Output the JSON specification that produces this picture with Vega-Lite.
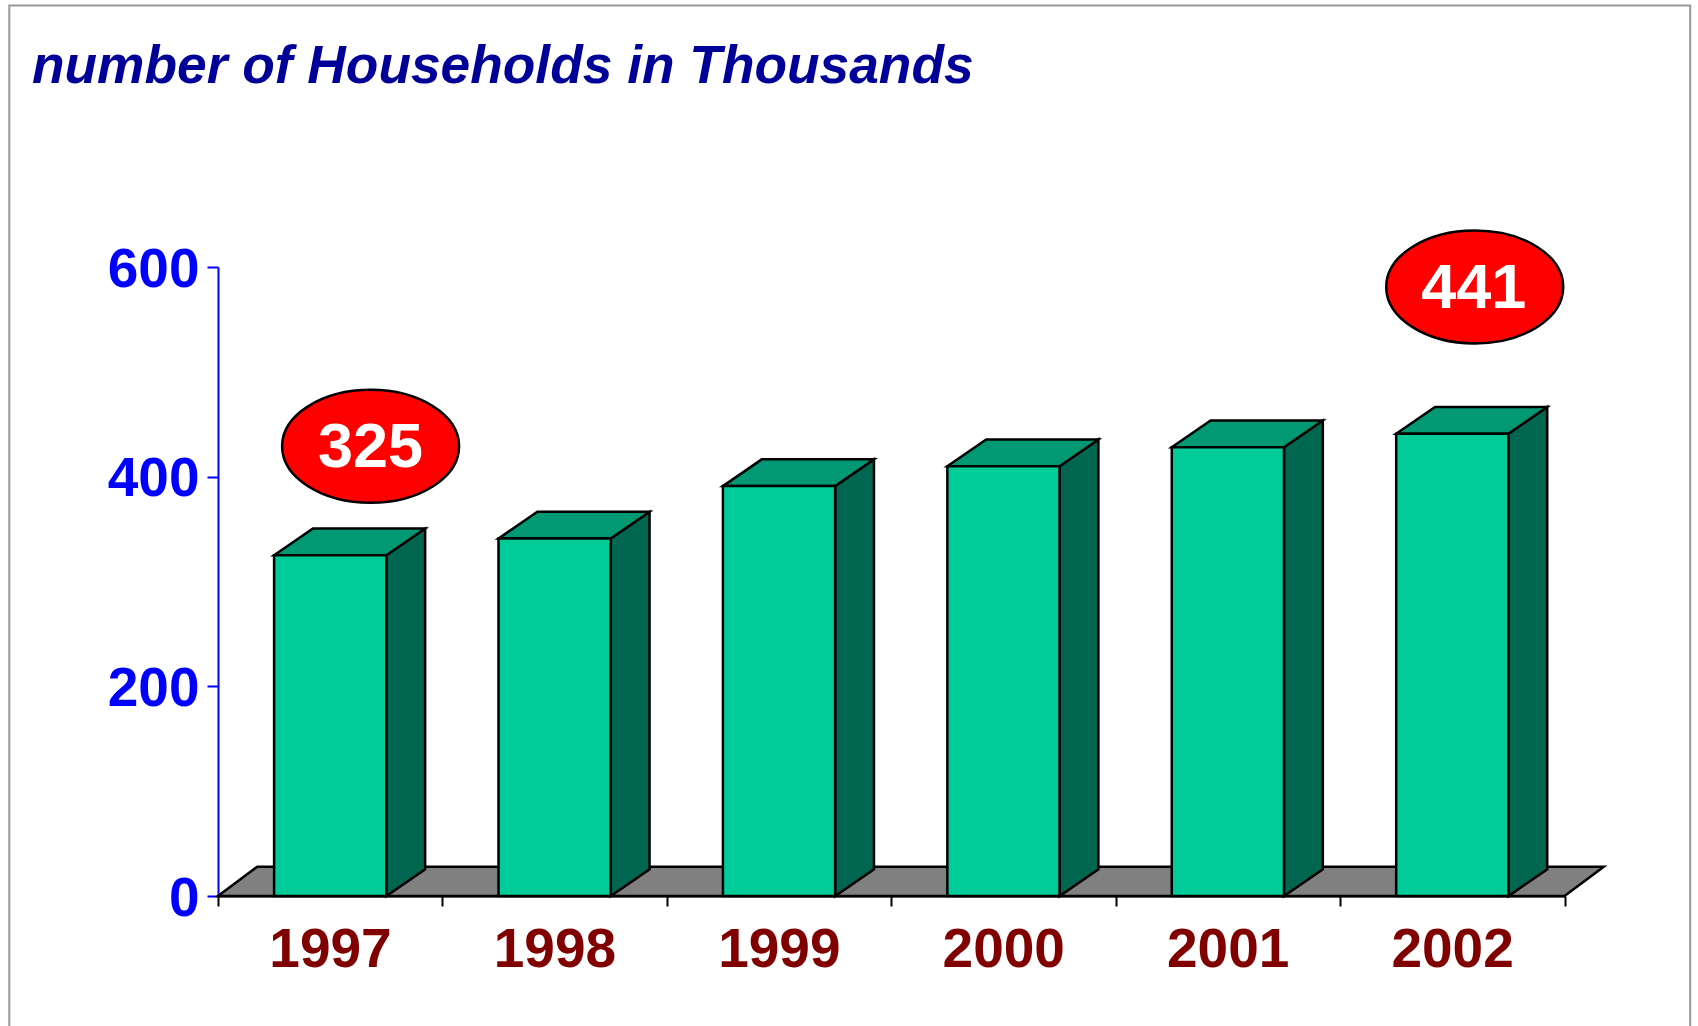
{
"$schema":"https://vega.github.io/schema/vega-lite/v6.json",
"autosize":"none",
"padding":{"left":218,"right":133.5,"top":267,"bottom":130},
"width":1346.5,
"height":629,
"background":"white",
"config":{"view":{"stroke":null},"axis":{"grid":false}},
"title":{"text":"number of Households in Thousands","anchor":"start","frame":"group","dx":-186,"offset":-90,"font":"Liberation Sans","fontSize":53.3,"fontWeight":"bold","fontStyle":"italic","color":"#000099"},
"layer":[
{"data":{"values":[{"frame":"slide"}]},
 "mark":{"type":"rect","filled":false,"stroke":"#999999","strokeWidth":2},
 "encoding":{
  "x":{"datum":1995.57,"type":"quantitative","scale":{"domain":[1996.5,2002.5],"nice":false,"zero":false},
    "axis":{"values":[1996.5,1997.5,1998.5,1999.5,2000.5,2001.5,2002.5],"title":null,"labelExpr":"datum.value<2002 ? format(datum.value+0.5,'d') : ''","labelOffset":112,"labelBound":false,"labelFlush":false,"labelOverlap":false,"labelFont":"Liberation Sans","labelFontSize":55,"labelFontWeight":"bold","labelColor":"#800000","labelPadding":17,"tickSize":10,"tickWidth":2,"tickColor":"black","domainColor":"black","domainWidth":2}},
  "x2":{"datum":2003.06},
  "y":{"datum":849.5,"type":"quantitative","scale":{"domain":[0,600],"nice":false,"zero":true},
    "axis":{"values":[0,200,400,600],"title":null,"format":"d","labelFont":"Liberation Sans","labelFontSize":55,"labelFontWeight":"bold","labelColor":"#0000FF","labelPadding":8,"labelOffset":2,"tickSize":11,"tickWidth":2,"tickColor":"#0000FF","domainColor":"#0000FF","domainWidth":2}},
  "y2":{"datum":-150}
 }},
{"data":{"values":[{"edge":"near"},{"edge":"far"}]},
 "transform":[
  {"calculate":"datum.edge=='far' ? 0.175 : 0","as":"shift"},
  {"calculate":"1996.5+datum.shift","as":"floorLeft"},
  {"calculate":"2002.5+datum.shift","as":"floorRight"},
  {"calculate":"datum.edge=='far' ? 28 : 0","as":"floorDepth"}
 ],
 "mark":{"type":"area","orient":"horizontal","fill":"#808080","stroke":"black","strokeWidth":2.5,"opacity":1},
 "encoding":{
  "y":{"field":"floorDepth","type":"quantitative"},
  "x":{"field":"floorLeft","type":"quantitative"},
  "x2":{"field":"floorRight"}
 }},
{"data":{"name":"bars","values":[
  {"year":1997,"households":325},
  {"year":1998,"households":341},
  {"year":1999,"households":391},
  {"year":2000,"households":410},
  {"year":2001,"households":428},
  {"year":2002,"households":441}
 ]},
 "transform":[
  {"fold":["near","far"],"as":["edge","unused"]},
  {"calculate":"datum.edge=='far' ? 0.173 : 0","as":"shift"},
  {"calculate":"datum.edge=='far' ? 25.5 : 0","as":"rise"},
  {"calculate":"datum.year-0.25+datum.shift","as":"left"},
  {"calculate":"datum.year+0.25+datum.shift","as":"right"},
  {"calculate":"datum.households+datum.rise","as":"top"}
 ],
 "layer":[
  {"mark":{"type":"area","fill":"#006650","stroke":"black","strokeWidth":2.5,"opacity":1},
   "encoding":{
    "detail":{"field":"year"},
    "x":{"field":"right","type":"quantitative"},
    "y":{"field":"top","type":"quantitative"},
    "y2":{"field":"rise"}
   }},
  {"mark":{"type":"area","orient":"horizontal","fill":"#009973","stroke":"black","strokeWidth":2.5,"opacity":1},
   "encoding":{
    "detail":{"field":"year"},
    "y":{"field":"top","type":"quantitative"},
    "x":{"field":"left","type":"quantitative"},
    "x2":{"field":"right"}
   }},
  {"transform":[{"filter":"datum.edge=='near'"}],
   "mark":{"type":"rect","fill":"#00CC99","stroke":"black","strokeWidth":2.5},
   "encoding":{
    "x":{"field":"left","type":"quantitative"},
    "x2":{"field":"right"},
    "y":{"field":"households","type":"quantitative"},
    "y2":{"datum":0}
   }}
 ]},
{"data":{"values":[{"callout":"1997"}]},
 "layer":[
  {"mark":{"type":"point","shape":"M -1 0 A 1 0.638 0 1 1 1 0 A 1 0.638 0 1 1 -1 0 Z","size":31329,"filled":true,"fill":"#FF0000","stroke":"black","strokeWidth":2.5,"opacity":1},
   "encoding":{"x":{"datum":1997.18,"type":"quantitative"},"y":{"datum":429,"type":"quantitative"}}},
  {"mark":{"type":"text","text":"325","font":"Liberation Sans","fontSize":63,"fontWeight":"bold","fill":"white","align":"center","baseline":"middle","dy":2},
   "encoding":{"x":{"datum":1997.18,"type":"quantitative"},"y":{"datum":429,"type":"quantitative"}}}
 ]},
{"data":{"values":[{"callout":"2002"}]},
 "layer":[
  {"mark":{"type":"point","shape":"M -1 0 A 1 0.638 0 1 1 1 0 A 1 0.638 0 1 1 -1 0 Z","size":31329,"filled":true,"fill":"#FF0000","stroke":"black","strokeWidth":2.5,"opacity":1},
   "encoding":{"x":{"datum":2002.1,"type":"quantitative"},"y":{"datum":581,"type":"quantitative"}}},
  {"mark":{"type":"text","text":"441","font":"Liberation Sans","fontSize":63,"fontWeight":"bold","fill":"white","align":"center","baseline":"middle","dy":2,"dx":-1},
   "encoding":{"x":{"datum":2002.1,"type":"quantitative"},"y":{"datum":581,"type":"quantitative"}}}
 ]}
]
}
